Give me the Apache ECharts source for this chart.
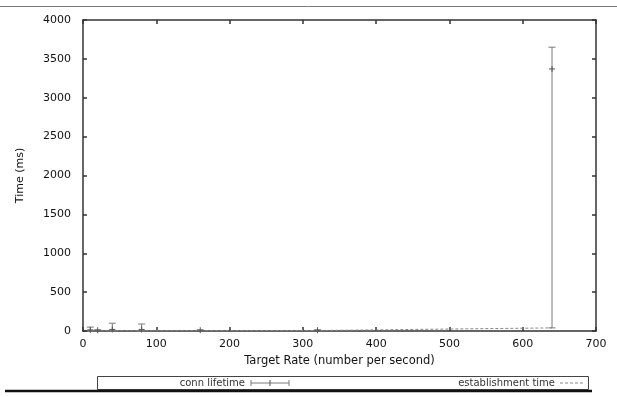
<!DOCTYPE html>
<html>
<head>
<meta charset="utf-8">
<script src="https://cdn.jsdelivr.net/npm/echarts@6/dist/echarts.min.js"></script>
<style>
  html, body { margin: 0; padding: 0; background: #fff; }
  #chart { width: 617px; height: 397px; }
</style>
</head>
<body>
<div id="chart"></div>
<script>
// Target rates (connections per second)
const rates = [10, 20, 40, 80, 160, 320, 640];
// Connection lifetime: mean with min/max error bars (ms)
const lifeMean = [15, 10, 20, 20, 10, 10, 3370];
const lifeLow  = [0, 5, 0, 0, 5, 5, 40];
const lifeHigh = [50, 15, 100, 90, 15, 15, 3650];
// Connection establishment time (ms)
const estab = [1, 1, 2, 3, 4, 6, 40];

const FONT = '"DejaVu Sans", Verdana, sans-serif';
const AXIS = '#333';
const BAR = '#7a7a7a';
const TEXT = '#111';

const errData = rates.map((r, i) => [r, lifeMean[i], lifeLow[i], lifeHigh[i]]);
const estData = rates.map((r, i) => [r, estab[i]]);

function errorBar(params, api) {
  const x = api.value(0);
  const pm = api.coord([x, api.value(1)]);
  const pl = api.coord([x, api.value(2)]);
  const ph = api.coord([x, api.value(3)]);
  const cap = 3.5, plus = 3;
  const style = { stroke: BAR, lineWidth: 1, fill: null };
  const mark = { stroke: '#555', lineWidth: 1 };
  return {
    type: 'group',
    children: [
      { type: 'line', shape: { x1: pm[0], y1: pl[1], x2: pm[0], y2: ph[1] }, style },
      { type: 'line', shape: { x1: pm[0] - cap, y1: ph[1], x2: pm[0] + cap, y2: ph[1] }, style },
      { type: 'line', shape: { x1: pm[0] - cap, y1: pl[1], x2: pm[0] + cap, y2: pl[1] }, style },
      { type: 'line', shape: { x1: pm[0] - plus, y1: pm[1], x2: pm[0] + plus, y2: pm[1] }, style: mark },
      { type: 'line', shape: { x1: pm[0], y1: pm[1] - plus, x2: pm[0], y2: pm[1] + plus }, style: mark }
    ]
  };
}

function axis(extra) {
  return Object.assign({
    type: 'value',
    axisLine: { show: true, onZero: false, lineStyle: { color: AXIS, width: 1.5 } },
    axisTick: { show: true, inside: true, length: 4, lineStyle: { color: AXIS, width: 1.5 } },
    splitLine: { show: false },
    axisLabel: { color: TEXT, fontFamily: FONT, fontSize: 11, formatter: v => String(v) }
  }, extra);
}

const titleStyle = { color: TEXT, fontFamily: FONT, fontSize: 11.5 };

const chart = echarts.init(document.getElementById('chart'), null, { renderer: 'canvas' });
chart.setOption({
  animation: false,
  backgroundColor: '#fff',
  grid: { left: 83, right: 21, top: 20, bottom: 66, containLabel: false },
  xAxis: [
    axis({
      min: 0, max: 700, interval: 100, position: 'bottom',
      name: 'Target Rate (number per second)', nameLocation: 'middle', nameGap: 22,
      nameTextStyle: titleStyle
    }),
    axis({
      min: 0, max: 700, interval: 100, position: 'top',
      axisLabel: { show: false }
    })
  ],
  yAxis: [
    axis({
      min: 0, max: 4000, interval: 500, position: 'left',
      name: 'Time (ms)', nameLocation: 'middle', nameGap: 57, nameRotate: 90,
      nameTextStyle: Object.assign({}, titleStyle, { fontSize: 11 }),
      axisLabel: { color: TEXT, fontFamily: FONT, fontSize: 11, margin: 12, formatter: v => String(v) }
    }),
    axis({
      min: 0, max: 4000, interval: 500, position: 'right',
      axisLabel: { show: false }
    })
  ],
  series: [
    {
      name: 'establishment time',
      type: 'line',
      data: estData,
      symbol: 'none',
      lineStyle: { color: '#888', width: 1, type: [3, 2] },
      z: 3
    },
    {
      name: 'conn lifetime',
      type: 'custom',
      renderItem: errorBar,
      data: errData,
      encode: { x: 0, y: [1, 2, 3] },
      z: 4
    }
  ],
  graphic: [
    // rule above the figure
    { type: 'line', shape: { x1: 0, y1: 6.5, x2: 617, y2: 6.5 }, style: { stroke: '#777', lineWidth: 1 } },
    // key box
    { type: 'rect', shape: { x: 97.5, y: 376.5, width: 491, height: 13 }, style: { fill: '#fff', stroke: '#444', lineWidth: 1 } },
    { type: 'text', style: { x: 245, y: 383, text: 'conn lifetime', fill: '#333', font: '10px ' + FONT, textAlign: 'right', textVerticalAlign: 'middle' } },
    { type: 'line', shape: { x1: 251, y1: 383, x2: 289, y2: 383 }, style: { stroke: BAR, lineWidth: 1 } },
    { type: 'line', shape: { x1: 251, y1: 380, x2: 251, y2: 386 }, style: { stroke: BAR, lineWidth: 1 } },
    { type: 'line', shape: { x1: 289, y1: 380, x2: 289, y2: 386 }, style: { stroke: BAR, lineWidth: 1 } },
    { type: 'line', shape: { x1: 270, y1: 380, x2: 270, y2: 386 }, style: { stroke: '#555', lineWidth: 1 } },
    { type: 'text', style: { x: 555, y: 383, text: 'establishment time', fill: '#333', font: '10px ' + FONT, textAlign: 'right', textVerticalAlign: 'middle' } },
    { type: 'line', shape: { x1: 560, y1: 383, x2: 585, y2: 383 }, style: { stroke: '#888', lineWidth: 1, lineDash: [3, 2] } },
    // heavy rule beneath the key
    { type: 'line', shape: { x1: 5, y1: 391, x2: 592, y2: 391 }, style: { stroke: '#111', lineWidth: 2.5 } }
  ]
});
</script>
</body>
</html>
